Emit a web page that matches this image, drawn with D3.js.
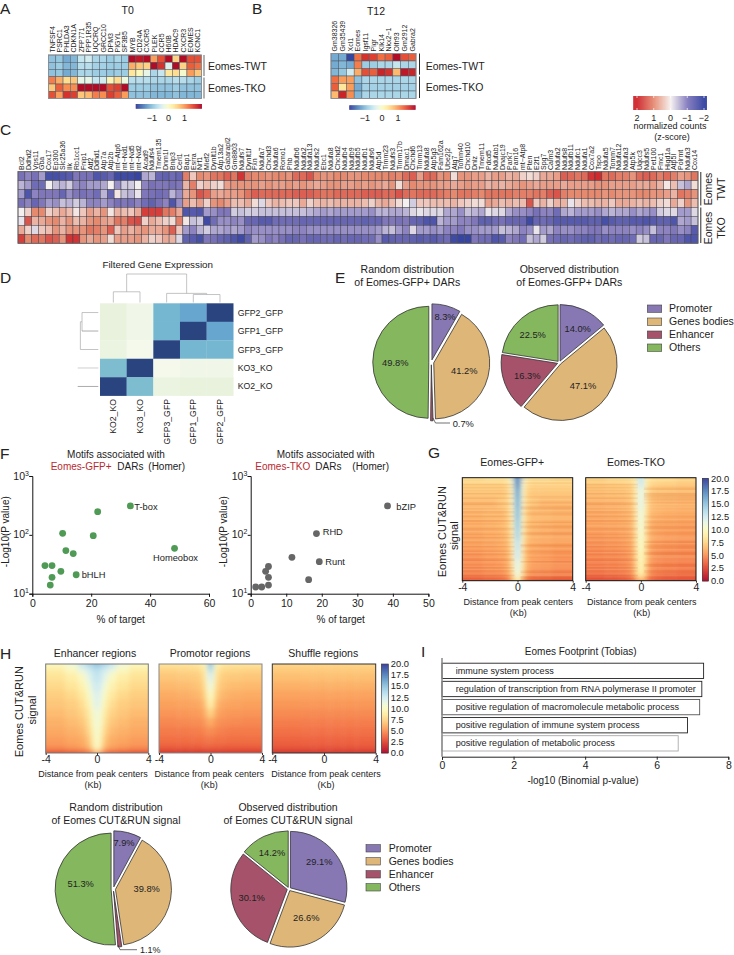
<!DOCTYPE html>
<html><head><meta charset="utf-8">
<script src="https://cdn.jsdelivr.net/npm/d3@7/dist/d3.min.js"></script>
<style>html,body{margin:0;background:#fff}svg{display:block}text{font-family:"Liberation Sans",Arial,sans-serif;fill:#222}</style>
</head><body><svg id="c" width="734" height="955"></svg>
<script>
// ---------- Panel A ----------
const aGenes=["TNFSF4","PSRC1","PHLDA3","CDKN1A","ZFP771","PPP1R35","UQCRQ","GRCC10","DPM3","PIGYL","SF3B5","MYB","CD24A","CXCR5","PLEK","CCR5","H60B","HDAC9","CXCR3","EOMES","KCNC1"];
const aRows=[
[-1,-.95,-1.2,-1.1,-.6,-.5,-.8,-.8,-.9,-.8,-.9,1.9,1.8,1.9,.9,1.4,1.9,.5,1.9,1.4,1.4],
[-1,-.9,-1.1,-1.1,-.7,-.7,-.85,-.85,-.9,-.9,-.9,.8,.6,.5,1.9,1.6,-.4,1.9,.5,1.3,1.2],
[-1,-.95,-1.2,-1.1,-.8,-.8,-.9,-.9,-.95,-.9,-.9,.3,.05,-.3,-.8,-.6,.3,.4,-.1,.9,.6],
[1.1,.8,.4,.6,-.3,-.3,-.6,-.5,.1,.4,-.2,-.7,-.7,-.7,-.8,-.8,-.8,-.7,-.7,-.8,-.9],
[.6,1.3,1,1,1.9,1.9,1.9,1.9,1.4,1.5,1.9,-.9,-.9,-.9,-1,-1,-1,-.9,-1,-1,-1],
[1.4,.9,1.6,1.5,.6,.7,1.1,1,1.5,1.3,.9,-1,-1,-1,-1.1,-1.1,-1.1,-1,-1.1,-1.1,-1.1]];
// ---------- Panel B ----------
const bGenes=["Gm38326","Gm35439","Xcl1","Eomes","Igsf11","Pigr","Klk14","Nkx2−1","Olfr93","Gm2912","Gabra2"];
const bRows=[
[-1.2,-1.2,-1.9,1.2,1.6,1.5,1.2,1.3,1.9,1.4,1.3],
[-1.2,-1.1,-1.2,1.1,-.9,-.9,-.8,-.8,-.6,-.8,-.8],
[-1.1,-.95,-.5,.8,1.4,1.3,1.7,1.6,.7,1.8,1.7],
[1.2,.9,.9,-1,-.8,-.8,-.8,-.8,-.8,-.8,-.8],
[1.3,.3,.9,-1.2,-.85,-.85,-.85,-.85,-.85,-.85,-.85],
[.7,1.7,1,-1.1,-.8,-.8,-.8,-.8,-.8,-.8,-.8]];
// ---------- Panel C (z-score x 10) ----------
const cGenes=["Bcl2","Ddhd2","Vps11","Gba","Cox17","Ep300","Slc25a36","Ilk","Rb1cc1","Fnip1","Atf2","Ddhd1","Atp7a","Atp2b","mt−Atp6","mt−Nd1","mt−Nd5","mt−Nd2","Acad9","Ndufs4","Tmem135","Dnm1l","Bnip3","Cerl1","Bap1","Esrra","Nrf1","Mief2","Dynlt1b","Atp13a2","Gabarapl2","Gm8803","Ndufs7","Dynlt1f","Fxn","Ndufa7","Chchd3","Ndufa6","Romo1","Phb","Ndufb6","Ndufa2","Ndufa13","Ndufs2","Ebc1","Ndufa8","Chchd2","Ndufb4","Ndufb9","Ndufb5","Ndufb1","Ndufs6","Atp5d","Timm23","Ndufs3","Timm17b","Dmac1","Chchd6","Timm13","Ndufa8","Atp5g3","Fam162a","Ube2j2","Atg7","Tomm40","Chchd10","Dnlz","Tmem11","Pdcd5","Ndufab1","Dnajc19","Park7","Pam16","mt−Atp8","Pten","E2f1","Spg7","Calm3","Ndufa2","Ndufs8","Ndufb11","Ndufc1","Ndufa1","Cox7a2","Tspo","Ndufa5","Tomm7","Ndufa12","Ndufa3","Atp5k","Uqcc3","Ndufs5","Pet100","Fmc1","Higd1a","Atp5l","Polrmt","Ndufa3","Cox14"];
const cRow1=[-11,-9,-11,-7,-17,-17,-16,-15,-10,-11,-11,-16,-15,-13,-18,-18,-18,-19,-6,-5,-13,-14,-12,-13,
11,4,10,9,12,12,14,12,18,11,10,10,9,10,10,9,13,13,15,10,9,9,10,10,9,9,
10,10,10,10,11,10,13,14,8,13,13,9,10,2,9,9,8,8,6,8,8,6,7,3,2,3,7,7,8,14,13,12,13,18,19,12,13,11,11,9,13,14,13,11,13,11,8,9,12];
const cRow2=[-5,-7,-12,-12,0,-4,-5,-3,-8,-9,-7,-7,-6,0,-8,-3,-3,0,-9,-11,-10,-10,-11,-10,
6,11,3,5,3,2,8,9,9,9,9,8,9,8,8,9,8,9,8,7,8,9,9,8,8,9,
8,9,8,7,9,2,8,10,9,9,9,8,8,7,8,9,8,8,6,7,6,7,8,9,8,7,8,8,8,7,8,8,8,8,9,9,8,8,8,8,7,7,8,6,1,5,-4,-6,2];
const cRow3=[-7,-16,-9,-10,-10,-10,-13,-8,-10,-11,-10,-12,-5,-13,1,-4,-5,-1,-10,-11,-12,-11,-5,-8,
7,9,15,13,8,7,8,8,9,12,14,13,13,13,13,13,14,14,14,13,12,12,13,13,13,13,
14,14,14,13,13,15,13,12,13,13,13,12,11,10,12,12,11,10,12,12,12,12,11,11,11,12,11,14,15,11,10,10,10,10,10,9,10,9,9,9,10,10,9,9,8,6,12,11,9];
const cRow4=[-11,-9,-13,-10,-7,-8,-4,-5,-3,-5,-9,-9,-7,-9,-11,-10,-11,-9,-12,-14,-11,-9,-16,-8,
8,5,8,3,9,10,8,5,5,7,2,-2,4,6,5,4,4,7,3,5,6,5,6,6,6,6,
5,3,6,7,5,2,0,-3,4,4,5,5,5,6,4,3,2,2,8,7,5,6,5,5,15,4,6,3,6,6,-1,3,5,5,6,6,4,7,7,6,5,6,5,3,2,7,3,9,5];
const cRow5=[0,3,10,10,3,5,7,5,1,4,8,6,9,1,6,5,4,7,17,17,17,12,11,7,
-16,-15,-16,-7,-8,-10,-10,-3,-4,-3,-3,-4,-4,-4,-4,-4,-4,-4,-5,-6,-7,-6,-7,-7,-7,-7,
-7,-8,-5,-5,-6,-6,-5,-2,-1,-2,-2,-2,-6,-6,-8,-4,-5,-6,-1,-2,-2,-6,-8,-8,-9,-11,-9,-9,-12,-6,-5,-7,-7,-7,-8,-6,-5,-6,-6,-8,-6,-7,-8,-3,-2,-2,-7,-7,-2];
const cRow6=[-1,15,6,7,9,10,6,9,5,6,9,10,8,7,12,11,15,16,3,7,5,3,2,11,
1,-4,-3,-18,-12,-8,-8,-9,-8,-13,-13,-15,-15,-12,-12,-12,-12,-13,-13,-13,-13,-13,-13,-13,-13,-13,
-14,-13,-13,-10,-10,-11,-10,-13,-14,-16,-16,-5,-7,-7,-9,-9,-10,-14,-14,-12,-11,-13,-13,-13,-18,-13,-12,-13,-15,-15,-15,-15,-15,-14,-14,-17,-15,-14,-14,-15,-15,-16,-15,-14,-14,-16,-6,-7,-4];
const cRow7=[7,3,-2,4,5,9,6,9,9,9,12,11,9,14,4,8,6,8,9,7,7,9,14,4,
-7,-9,-5,-3,-6,-6,-7,-6,-7,-9,-8,-8,-8,-8,-8,-8,-9,-9,-8,-8,-8,-8,-8,-8,-8,-8,
-8,-8,-7,-5,-4,-7,-9,-2,-7,-7,-8,-7,-9,-9,-10,-8,-8,-7,-7,-7,-4,-5,-6,-9,-8,-1,-7,-6,-9,-8,-8,-9,-9,-10,-10,-8,-9,-9,-9,-8,-9,-8,-4,-9,-9,-10,-8,-9,-15];
const cRow8=[17,10,13,12,15,14,9,18,18,9,7,9,8,2,8,8,8,9,6,3,4,7,6,-2,
-14,-15,-17,-10,-11,-13,-14,-16,-18,-14,-7,-8,-10,-9,-11,-13,-13,-11,-13,-13,-12,-12,-13,-12,-13,-13,
-12,-12,-8,-15,-14,-13,-13,-14,-15,-14,-15,-13,-12,-18,-19,-19,-10,-12,-12,-16,-15,-9,-10,-12,-4,-6,-3,-11,-12,-13,-12,-13,-14,-14,-12,-13,-12,-13,-13,-12,-3,-4,-13,-13,-10,-13,-13,-16,-16];
// ---------- Panel D ----------
const dCols=["KO2_KO","KO3_KO","GFP3_GFP","GFP1_GFP","GFP2_GFP"];
const dRows=["GFP2_GFP","GFP1_GFP","GFP3_GFP","KO3_KO","KO2_KO"];
const dMatrix=[[.1,.04,.6,.68,1],[.1,.04,.6,1,.68],[.08,.02,1,.6,.6],[.55,1,.02,.04,.04],[1,.55,.08,.1,.1]];
const dTopMerges=[[0,1,.376,0,0],[3,4,.28,0,0],[2,3.5,.32,0,.28],[.5,2.75,1,.376,.32]];
const dLeftMerges=[[0,1,.79,0,0],[.5,2,.87,.79,0]];
const dLeftLeaves=[[3,1],[4,1]];
// ---------- Pies ----------
const pieCats=["Promoter","Genes bodies","Enhancer","Others"];
const pieRandomE=[8.3,41.2,.7,49.8];
const pieObservedE=[14,47.1,16.3,22.5];
const pieRandomH=[7.9,39.8,1.1,51.3];
const pieObservedH=[29.1,26.6,30.1,14.2];
// ---------- Panel F ----------
const gfpPct=[33.3,22.2,10.3,20.7,11.4,13.9,48.3,4.3,6.7,9.7,14.9,6.7,6.1];
const gfpP=[310,248,106,97,54,48,59,30,30,24,21,19,14];
const tkoPct=[38.5,18.5,19.3,11.6,16.3,5,4.2,5,5,1.4,3.1];
const tkoP=[310,105,35,41.5,17.3,29,24,19,14,13,13];
// ---------- Panel G / H density (signal per row, per distance bin) ----------
const binEdges=[-4,-2.5,-1.5,-.9,-.5,-.25,.25,.5,.9,1.5,2.5,4];
const rowEdges=[0,.03,.1,.2,.3,.4,.5,.6,.7,.8,.9,.97,1];
const gGfp=[[8.5,9,9,9.5,12,17.5,12,9.5,9,9,8.5],[7.5,7.5,7.5,8,11,17,11,8,7.5,7.5,7.5],[7,7,7,7.5,10.5,16,10.5,7.5,7,7,7],[6.5,6.5,7,7.5,10.5,15.5,10.5,7.5,7,6.5,6.5],[6.3,6.5,6.5,7.2,10,15,10,7.2,6.5,6.5,6.3],[6,6.2,6.4,7,9.5,14.5,10,7,6.4,6.2,6],[5.8,6,6.2,6.8,9.2,14,9.5,6.8,6.2,6,5.8],[5.6,5.8,6,6.5,9,13,9,6.5,6,5.8,5.6],[5.2,5.5,5.7,6.2,8.5,12.5,8.8,6.2,5.7,5.5,5.2],[5,5.2,5.4,6,8.2,11.5,8.5,6,5.4,5.2,5],[4.6,4.9,5,5.6,7.5,11,8,5.6,5,4.9,4.6],[3,3.2,3.4,4,6,8.5,6,4,3.4,3.2,3]];
const gTko=[[8,8.5,8.5,8.8,9.5,13,9.5,8.8,8.5,8.5,8],[7,7.2,7.3,7.6,9.2,12.5,9.2,7.6,7.3,7.2,7],[6.6,6.7,6.8,7.2,9,11.5,9,7.2,6.8,6.7,6.6],[6.2,6.3,6.4,6.8,8.8,11.5,8.8,6.8,6.4,6.3,6.2],[5.9,6,6.2,6.5,8.5,11,8.5,6.5,6.2,6,5.9],[5.7,5.8,5.9,6.3,8.2,10.8,8.2,6.3,5.9,5.8,5.7],[5.4,5.5,5.7,6.1,8,10.5,8,6.1,5.7,5.5,5.4],[5.1,5.2,5.4,5.8,7.8,10.2,7.8,5.8,5.4,5.2,5.1],[4.8,4.9,5.1,5.5,7.5,9.8,7.5,5.5,5.1,4.9,4.8],[4.5,4.6,4.8,5.2,7.2,9.5,7.2,5.2,4.8,4.6,4.5],[4,4.2,4.4,4.9,6.8,9,6.8,4.9,4.4,4.2,4],[2.5,2.6,2.8,3.2,4.5,6,4.5,3.2,2.8,2.6,2.5]];
const hEnh=[[10,11,13,14,14.5,15,14.5,14,13,11,10],[9,10,11.5,12.5,13,13.5,13,12.5,11.5,10,9],[8.3,9,10,11.5,12.5,13,12.5,11.5,10,9,8.3],[7.8,8.4,9.3,10.5,12,12.5,12,10.5,9.3,8.4,7.8],[7.3,7.8,8.6,9.8,11.2,12,11.2,9.8,8.6,7.8,7.3],[7,7.3,8,9.2,10.5,11.8,10.5,9.2,8,7.3,7],[6.6,7,7.5,8.5,10,11,10,8.5,7.5,7,6.6],[6.2,6.6,7,8,9.6,10.8,9.6,8,7,6.6,6.2],[5.9,6.2,6.5,7.5,9,10.5,9,7.5,6.5,6.2,5.9],[5.5,5.8,6,6.8,8.5,10.2,8.5,6.8,6,5.8,5.5],[5,5.3,5.6,6.2,7.8,10,7.8,6.2,5.6,5.3,5],[2.8,3,3.2,3.6,4.5,6,4.5,3.6,3.2,3,2.8]];
const hPro=[[8.5,8.5,8.5,9,10,15,10,9,8.5,8.5,8.5],[7.6,7.7,7.8,8.2,9.5,13.5,9.5,8.2,7.8,7.7,7.6],[7,7.1,7.2,7.6,9,12,9,7.6,7.2,7.1,7],[6.5,6.6,6.8,7.2,8.5,11,8.5,7.2,6.8,6.6,6.5],[6,6.1,6.3,6.7,7.8,10,7.8,6.7,6.3,6.1,6],[5.6,5.7,5.8,6.1,7,9,7,6.1,5.8,5.7,5.6],[5.2,5.3,5.4,5.6,6.2,7.5,6.2,5.6,5.4,5.3,5.2],[4.8,4.9,5,5.1,5.4,6,5.4,5.1,5,4.9,4.8],[4.4,4.4,4.5,4.6,4.8,5,4.8,4.6,4.5,4.4,4.4],[4,4,4.1,4.1,4.2,4.3,4.2,4.1,4.1,4,4],[3.4,3.4,3.4,3.5,3.5,3.5,3.5,3.5,3.4,3.4,3.4],[1.8,1.8,1.8,1.8,1.9,1.9,1.9,1.8,1.8,1.8,1.8]];
const hShu=[[7.7,7.7,7.7,7.7,7.7,7.8,7.7,7.7,7.7,7.7,7.7],[7.2,7.2,7.2,7.2,7.2,7.2,7.2,7.2,7.2,7.2,7.2],[6.7,6.7,6.7,6.7,6.7,6.7,6.7,6.7,6.7,6.7,6.7],[6.2,6.2,6.2,6.2,6.2,6.2,6.2,6.2,6.2,6.2,6.2],[5.7,5.7,5.7,5.7,5.7,5.7,5.7,5.7,5.7,5.7,5.7],[5.3,5.3,5.3,5.3,5.3,5.3,5.3,5.3,5.3,5.3,5.3],[4.9,4.9,4.9,4.9,4.9,4.9,4.9,4.9,4.9,4.9,4.9],[4.5,4.5,4.5,4.5,4.5,4.5,4.5,4.5,4.5,4.5,4.5],[4.1,4.1,4.1,4.1,4.1,4.1,4.1,4.1,4.1,4.1,4.1],[3.7,3.7,3.7,3.7,3.7,3.7,3.7,3.7,3.7,3.7,3.7],[3.2,3.2,3.2,3.2,3.2,3.2,3.2,3.2,3.2,3.2,3.2],[1.8,1.8,1.8,1.8,1.8,1.8,1.8,1.8,1.8,1.8,1.8]];
const streaks=[.2,-.1,.12,.25,-.2,.05,-.15,.18,-.05,.22,-.22,.1,.02,-.18,.15,.2,-.12,-.25,.08,.16,-.08,.24,-.16,-.04,.14,-.2,.06,.2,-.24,.1,-.06,.18,.12,-.2,-.1,.22,.04,-.16,.16,-.22,.08,.2,-.12,-.02,.18,-.2,.12,.06,-.14,.24,-.18,.02,.16,-.1,-.24,.2,.1,-.06,.14,-.2,.22,-.12,.05,.17,-.19,.08,-.03,.13];
// ---------- Panel I ----------
const iTerms=["immune system process","regulation of transcription from RNA polymerase II promoter","positive regulation of macromolecule metabolic process","positive regulation of immune system process","positive regulation of metabolic process"];
const iValues=[7.31,7.26,7.2,6.86,6.6];

const svg=d3.select("#c");
function T(x,y,s,o={}){const e=svg.append("text").attr("x",x).attr("y",y).attr("font-size",o.size||10.5).attr("text-anchor",o.anchor||"start").text(s);
 if(o.rot!=null)e.attr("transform",`rotate(${o.rot} ${x} ${y})`);if(o.fill)e.style("fill",o.fill);return e;}
const heatA=d3.scaleSequential(t=>d3.interpolateRdYlBu(1-t)).domain([-2,2]).clamp(true);
function colorbarH(x0,x1,y,h,pos2val,color){const n=Math.round(x1-x0)*2;
 const px=d3.scaleLinear([0,n],[x0,x1]);
 svg.append("g").selectAll("rect").data(d3.range(n)).join("rect").attr("x",d=>px(d)).attr("y",y).attr("width",(x1-x0)/n+.3).attr("height",h).attr("fill",d=>color(pos2val(px(d))));}
function colorbarV(x,w,y0,y1,color){const n=Math.round(y1-y0)*2,py=d3.scaleLinear([0,n],[y0,y1]),v=d3.scaleLinear([y0,y1],[20,0]);
 const g=svg.append("g");
 g.selectAll("rect").data(d3.range(n)).join("rect").attr("x",x).attr("y",d=>py(d)).attr("width",w).attr("height",(y1-y0)/n+.3).attr("fill",d=>color(v(py(d))));
 g.append("rect").attr("x",x).attr("y",y0).attr("width",w).attr("height",y1-y0).attr("fill","none").attr("stroke","#333").attr("stroke-width",.6);
 const a=d3.scaleLinear([0,20],[y1,y0]);
 [0,2.5,5,7.5,10,12.5,15,17.5,20].forEach(t=>T(x+w+2.5,a(t)+3.2,t.toFixed(1),{size:9.3}));}
function cellGrid(rows,x0,x1,y0,y1,color,labels,o){
 const x=d3.scaleBand().domain(d3.range(rows[0].length)).range([x0,x1]);
 const y=d3.scaleBand().domain(d3.range(rows.length)).range([y0,y1]);
 const g=svg.append("g");
 rows.forEach((r,i)=>g.selectAll(null).data(r).join("rect").attr("x",(d,j)=>x(j)).attr("y",y(i)).attr("width",x.bandwidth()).attr("height",y.bandwidth()).attr("fill",d=>color(d)).attr("stroke",o.grid).attr("stroke-width",o.gw));
 g.append("rect").attr("x",x0).attr("y",y0).attr("width",x1-x0).attr("height",y1-y0).attr("fill","none").attr("stroke",o.border).attr("stroke-width",.9);
 labels.forEach((l,j)=>T(x(j)+x.bandwidth()/2+o.fs*.35,o.ly,l,{size:o.fs,rot:-90}));
}
// panel letters
[["A",0,14],["B",252,14],["C",0,135],["D",0,283],["E",335,283],["F",0,459],["G",428,458],["H",0,659],["I",421,657]].forEach(d=>T(d[1],d[2],d[0],{size:15.5}));

// A
T(127.7,14,"T0",{anchor:"middle"});
cellGrid(aRows,48.5,201.5,55,98.5,heatA,aGenes,{grid:"#4e5a66",gw:.5,border:"#8b8f94",fs:7,ly:52.5});
[[55,76],[77.5,98.5]].forEach(s=>svg.append("line").attr("x1",204).attr("x2",204).attr("y1",s[0]).attr("y2",s[1]).attr("stroke","#888").attr("stroke-width",1.3));
T(208,70,"Eomes-TWT");T(208,92,"Eomes-TKO");
const barA=d3.scaleLinear([135.7,201.7],[-2,2]);
colorbarH(135.7,201.7,104,4.7,p=>barA(p),heatA);
[["−1",152],["0",168.5],["1",184.5]].forEach(d=>T(d[1],120.5,d[0],{size:9,anchor:"middle"}));
// B
T(376,14.5,"T12",{anchor:"middle"});
cellGrid(bRows,331,416,53.5,98.5,heatA,bGenes,{grid:"#4e5a66",gw:.5,border:"#8b8f94",fs:7,ly:51.5});
[[53.5,74.7],[76.5,98]].forEach(s=>svg.append("line").attr("x1",419.5).attr("x2",419.5).attr("y1",s[0]).attr("y2",s[1]).attr("stroke","#111").attr("stroke-width",.9));
T(425.7,69.5,"Eomes-TWT");T(425.7,90.5,"Eomes-TKO");
const barB=d3.scaleLinear([349.3,415.3],[-2,2]);
colorbarH(349.3,415.3,105.3,4.5,p=>barB(p),heatA);
[["−1",365],["0",382],["1",398]].forEach(d=>T(d[1],120.5,d[0],{size:9,anchor:"middle"}));
// C
const heatC=d3.scaleLinear().domain([-20,-10,0,10,20]).range(["#2f3f9e","#8077bb","#f5f0f0","#e58a6f","#cc1f26"]).clamp(true);
cellGrid([cRow1,cRow2,cRow3,cRow4,cRow5,cRow6,cRow7,cRow8],18,698,171.7,243.3,heatC,cGenes,{grid:"#3c3c44",gw:.45,border:"#666",fs:7,ly:170});
[[172,205.5],[207.5,243]].forEach(s=>svg.append("line").attr("x1",700.8).attr("x2",700.8).attr("y1",s[0]).attr("y2",s[1]).attr("stroke","#111").attr("stroke-width",.9));
[["Eomes",712,189],["TWT",725,189],["Eomes",712,228],["TKO",725,228]].forEach(d=>T(d[1],d[2],d[0],{rot:-90,anchor:"middle"}));
const barC=d3.scaleLinear([637,704],[2,-2]);
colorbarH(633.3,706.7,96,14,p=>barC(p)*10,heatC);
[["2",2],["1",1],["0",0],["−1",-1],["−2",-2]].forEach(d=>{const x=barC.invert(d[1]);T(x,120.5,d[0],{size:9,anchor:"middle"});
 [[96,98],[108,110]].forEach(s=>svg.append("line").attr("x1",x).attr("x2",x).attr("y1",s[0]).attr("y2",s[1]).attr("stroke","#fff").attr("stroke-width",.7));});
T(670,129,"normalized counts",{size:9,anchor:"middle"});T(672,140,"(z-score)",{size:9,anchor:"middle"});
// D
T(157.7,267.5,"Filtered Gene Expression",{size:9.8,anchor:"middle"});
const dColor=d3.scaleLinear().domain([0,.1,.55,.65,.7,1]).range(["#f7fbf0","#e8f2dd","#7dbdcf","#6cb0d3","#649fca","#2a4480"]);
const dx=d3.scaleBand().domain(d3.range(5)).range([100,233.3]),dy=d3.scaleBand().domain(d3.range(5)).range([303.3,395.7]);
dMatrix.forEach((r,i)=>svg.append("g").selectAll("rect").data(r).join("rect").attr("x",(d,j)=>dx(j)).attr("y",dy(i)).attr("width",dx.bandwidth()+.2).attr("height",dy.bandwidth()+.2).attr("fill",d=>dColor(d)));
dRows.forEach((l,i)=>T(237.7,dy(i)+dy.bandwidth()/2+3,l,{size:8.7}));
dCols.forEach((l,j)=>T(dx(j)+dx.bandwidth()/2+3,399,l,{size:8.7,rot:-90,anchor:"end"}));
const topX=d3.scaleLinear([0,4],[dx(0)+dx.bandwidth()/2,dx(4)+dx.bandwidth()/2]),topH=d3.scaleLinear([0,1],[302.5,274]);
const leftY=d3.scaleLinear([0,4],[dy(0)+dy.bandwidth()/2,dy(4)+dy.bandwidth()/2]),leftH=d3.scaleLinear([0,1],[98.3,77.7]);
const seg=(a,b,c,e,col)=>svg.append("line").attr("x1",a).attr("y1",b).attr("x2",c).attr("y2",e).attr("stroke",col||"#aaa").attr("stroke-width",.7);
dTopMerges.forEach(m=>{seg(topX(m[0]),topH(m[2]),topX(m[1]),topH(m[2]));seg(topX(m[0]),topH(m[2]),topX(m[0]),topH(m[3]));seg(topX(m[1]),topH(m[2]),topX(m[1]),topH(m[4]));});
dLeftMerges.forEach(m=>{seg(leftH(m[2]),leftY(m[0]),leftH(m[2]),leftY(m[1]));seg(leftH(m[2]),leftY(m[0]),leftH(m[3]),leftY(m[0]));seg(leftH(m[2]),leftY(m[1]),leftH(m[4]),leftY(m[1]),m[1]==1?"#888":null);});
dLeftLeaves.forEach(l=>seg(leftH(l[1]),leftY(l[0]),leftH(0),leftY(l[0]),l[0]==4?"#888":"#bbb"));

// Pies
const pieColors=d3.scaleOrdinal(pieCats,["#8778b4","#deb678","#a5526a","#85b75e"]);
function pie(vals,cx,cy,R,expl,labels){
 const arcs=d3.pie().sort(null)(vals),arc=d3.arc().innerRadius(0).outerRadius(R);
 svg.append("g").attr("transform",`translate(${cx},${cy})`).selectAll("path").data(arcs).join("path").attr("d",arc)
 .attr("transform",d=>{const a=(d.startAngle+d.endAngle)/2;return `translate(${Math.sin(a)*expl},${-Math.cos(a)*expl})`;})
 .attr("fill",(d,i)=>pieColors(pieCats[i])).attr("stroke","#333").attr("stroke-width",.8);
 vals.forEach((v,i)=>{if(labels[i])T(labels[i][0],labels[i][1]+3.5,v.toFixed(1)+"%",{size:9.3,anchor:"middle"});});
}
function legend(x,ys,tx){pieCats.forEach((c,i)=>{svg.append("rect").attr("x",x).attr("y",ys[i]-3.7).attr("width",14.4).attr("height",7.4).attr("fill",pieColors(c)).attr("stroke","#444").attr("stroke-width",.6);T(tx,ys[i]+3.7,c);});}
[["Random distribution",407.3,273],["of Eomes-GFP+ DARs",407.3,286],["Observed distribution",569.3,273],["of Eomes-GFP+ DARs",569.3,286]].forEach(d=>T(d[1],d[2],d[0],{anchor:"middle"}));
pie(pieRandomE,431.3,362.3,56,2.5,[[445,316.7],[464.3,370.7],null,[395.3,362.7]]);
pie(pieObservedE,559.3,362.7,56.5,1.8,[[577.7,328],[583,385],[527.3,375],[532.7,334.3]]);
T(452.7,426.5,"0.7%",{size:9.3});
svg.append("path").attr("d",d3.line()([[433,418],[435.5,423],[450,423]])).attr("fill","none").attr("stroke","#333").attr("stroke-width",.7);
legend(647.3,[308.7,321.7,334.7,347.7],669);

[["Random distribution",116,811],["of Eomes CUT&RUN signal",116,824],["Observed distribution",288,811],["of Eomes CUT&RUN signal",288,824]].forEach(d=>T(d[1],d[2],d[0],{anchor:"middle"}));
pie(pieRandomH,113.3,889,56,2.2,[[124,842.3],[146.7,888.7],null,[80.7,883.3]]);
pie(pieObservedH,289,889,56.5,1.8,[[319.3,861.7],[306.3,917.7],[251.7,897],[272,852.3]]);
T(140,952.8,"1.1%",{size:9});
svg.append("path").attr("d",d3.line()([[118,945],[120,949.7],[137,949.7]])).attr("fill","none").attr("stroke","#333").attr("stroke-width",.7);
legend(366,[848.3,861.3,874.3,887.3],388.7);

// F
function scatter(xs,ys,x0,x1,xMax,xt,color){
 const x=d3.scaleLinear([0,xMax],[x0,x1]),y=d3.scaleLog([10,1000],[593.7,476]);
 const gx=svg.append("g").attr("transform","translate(0,593.7)").call(d3.axisBottom(x).tickValues(xt).tickSize(3).tickPadding(3));
 const gy=svg.append("g").attr("transform",`translate(${x0},0)`).call(d3.axisLeft(y).tickValues([10,100,1000]).tickFormat("").tickSize(3));
 [gx,gy].forEach(g=>{g.selectAll("path,line").attr("stroke","#111");g.select(".domain").attr("stroke-width",1);});
 gx.selectAll("text").attr("font-size",10.5).attr("font-family",null);
 [[10,"1"],[100,"2"],[1000,"3"]].forEach(d=>{T(x0-7.3,y(d[0])+3.5,"10",{size:10.5,anchor:"end"});T(x0-7.3,y(d[0])-.5,d[1],{size:7});});
 svg.append("g").selectAll("circle").data(xs).join("circle").attr("cx",d=>x(d)).attr("cy",(d,i)=>y(ys[i])).attr("r",3.4).attr("fill",color);
}
scatter(gfpPct,gfpP,32.3,209,60,[0,20,40,60],"#4f9a55");
scatter(tkoPct,tkoP,250.7,428.4,50,[0,10,20,30,40,50],"#666");
T(134.3,509.5,"T-box",{size:9.3});T(153,561,"Homeobox",{size:9.3});T(81.7,577.5,"bHLH",{size:9.3});
T(396.3,509.5,"bZIP",{size:9.3});T(322.7,535,"RHD",{size:9.3});T(325.3,565,"Runt",{size:9.3});
T(116,457.7,"Motifs associated with",{size:10,anchor:"middle"});T(325.7,457.7,"Motifs associated with",{size:10,anchor:"middle"});
T(50.7,470,"Eomes-GFP+",{size:10,fill:"#b82a30"});T(117.3,470,"DARs",{size:10});T(148.3,470,"(Homer)",{size:10});
T(255.3,470,"Eomes-TKO",{size:10,fill:"#b82a30"});T(315.3,470,"DARs",{size:10});T(352.3,470,"(Homer)",{size:10});
T(9,531.7,"-Log10(P value)",{size:10,rot:-90,anchor:"middle"});T(227,531.7,"-Log10(P value)",{size:10,rot:-90,anchor:"middle"});
T(120.7,623,"% of target",{size:10,anchor:"middle"});T(340.7,623,"% of target",{size:10,anchor:"middle"});

// G, H density maps
const dens=d3.scaleSequential(t=>d3.interpolateRdYlBu(t)).domain([0,20]);
const defs=svg.append("defs");
defs.append("filter").attr("id","bl").attr("x","-20%").attr("y","-20%").attr("width","140%").attr("height","140%").append("feGaussianBlur").attr("stdDeviation","2.6 2.4");
let clipN=0;
function density(M,x0,x1,y0,y1,frame,st){
 const x=d3.scaleLinear([-4,4],[x0,x1]),y=d3.scaleLinear([0,1],[y0,y1]);
 const id="cp"+(clipN++);defs.append("clipPath").attr("id",id).append("rect").attr("x",x0).attr("y",y0).attr("width",x1-x0).attr("height",y1-y0);
 const outer=svg.append("g").attr("clip-path",`url(#${id})`);
 const g=outer.append("g").attr("filter","url(#bl)");
 M.forEach((r,i)=>g.selectAll(null).data(r).join("rect")
  .attr("x",(d,j)=>x(binEdges[j])-(j==0?14:0)).attr("width",(d,j)=>x(binEdges[j+1])-x(binEdges[j])+(j==0||j==r.length-1?14:0)+.3)
  .attr("y",y(rowEdges[i])-(i==0?14:0)).attr("height",y(rowEdges[i+1])-y(rowEdges[i])+(i==0||i==M.length-1?14:0)+.3).attr("fill",d=>dens(d)));
 if(st){const h=(y1-y0)/streaks.length,mid=(x0+x1)/2;
  streaks.forEach((s,i)=>{[[x0,mid-3,i],[mid+3,x1,(i*5+st)%streaks.length]].forEach(p=>{const v=streaks[p[2]]*.55;
   outer.append("rect").attr("x",p[0]).attr("width",p[1]-p[0]).attr("y",y0+i*h).attr("height",h+.1).attr("fill",v>0?"#fff3c8":"#c0461c").attr("opacity",Math.abs(v));});});}
 svg.append("rect").attr("x",x0).attr("y",y0).attr("width",x1-x0).attr("height",y1-y0).attr("fill","none").attr("stroke",frame).attr("stroke-width",1);
 const ax=svg.append("g").attr("transform",`translate(0,${y1})`).call(d3.axisBottom(x).tickValues([-4,0,4]).tickFormat(String).tickSize(2).tickPadding(1));
 ax.select(".domain").remove();ax.selectAll("line").attr("stroke","#333");
 ax.selectAll("text").attr("font-size",10.5).attr("font-family",null);
}
T(512.3,465.7,"Eomes-GFP+",{anchor:"middle"});T(636,465.7,"Eomes-TKO",{anchor:"middle"});
density(gGfp,462.3,572.7,477.7,580.7,"#111",1);
density(gTko,585.7,696,477.7,580.7,"#111",4);
colorbarV(702.3,6.2,478.3,581,dens);
[518.3,641.7].forEach(c=>{T(c,604.7,"Distance from peak centers",{size:9,anchor:"middle"});T(c,615.7,"(Kb)",{size:9,anchor:"middle"});});
T(446,531.7,"Eomes CUT&RUN",{size:11,rot:-90,anchor:"middle"});T(458,535.7,"signal",{size:11,rot:-90,anchor:"middle"});

[["Enhancer regions",95],["Promotor regions",210],["Shuffle regions",323.3]].forEach(d=>T(d[1],656.7,d[0],{anchor:"middle"}));
density(hEnh,45.7,148.3,664,753,"#777");
density(hPro,159,262,664,753,"#888");
density(hShu,272.3,375.7,664,753,"#333");
colorbarV(381.5,6.8,664,753,dens);
[93,209.3,326].forEach(c=>{T(c,777,"Distance from peak centers",{size:9,anchor:"middle"});T(c,787.7,"(Kb)",{size:9,anchor:"middle"});});
T(23,711.7,"Eomes CUT&RUN",{size:11,rot:-90,anchor:"middle"});T(36,710,"signal",{size:11,rot:-90,anchor:"middle"});

// I
T(580.7,654.5,"Eomes Footprint (Tobias)",{size:10,anchor:"middle"});
const ix=d3.scaleLinear([0,8],[442,728.3]);
const iy=d3.scaleBand().domain(d3.range(5)).range([663.2,751]).paddingInner(.155);
svg.append("g").selectAll("rect").data(iValues).join("rect").attr("x",ix(0)).attr("y",(d,i)=>iy(i)).attr("width",d=>ix(d)-ix(0)).attr("height",iy.bandwidth()).attr("fill","#fff").attr("stroke",(d,i)=>i==4?"#aaa":i==2?"#555":"#222").attr("stroke-width",.9);
iTerms.forEach((s,i)=>T(455.7,iy(i)+iy.bandwidth()/2+3.1,s,{size:9.1}));
const ixa=svg.append("g").attr("transform","translate(0,756.7)").call(d3.axisBottom(ix).tickValues([0,2,4,6,8]).tickSize(3).tickPadding(2));
ixa.selectAll("path,line").attr("stroke","#222");ixa.selectAll("text").attr("font-size",10.5).attr("font-family",null);
svg.append("line").attr("x1",442).attr("x2",442).attr("y1",658).attr("y2",756.7).attr("stroke","#888").attr("stroke-width",1.5);
T(583,783.5,"-log10 (Binomial p-value)",{size:10,anchor:"middle"});
</script></body></html>
